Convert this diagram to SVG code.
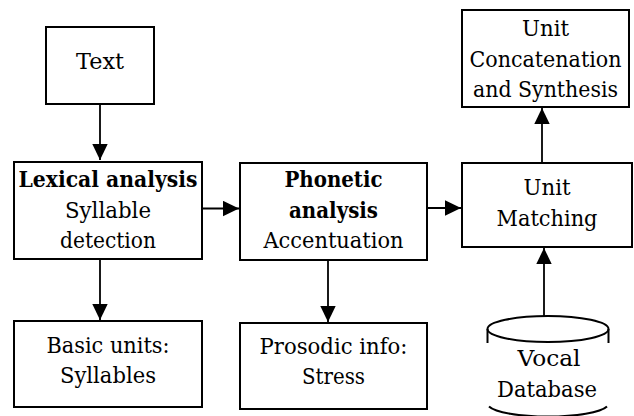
<svg xmlns="http://www.w3.org/2000/svg" width="634" height="416" viewBox="0 0 634 416">
  <style>
    .box { fill: #fff; stroke: #000; stroke-width: 2; }
    .cyl { fill: none; stroke: #000; stroke-width: 2; }
    .t { font-family: "DejaVu Serif", serif; font-size: 23px; fill: #000; text-anchor: middle; }
    .s { font-size: 22px; }
    .b { font-weight: bold; }
    .edge { stroke: #000; stroke-width: 1.8; fill: none; marker-end: url(#arrow); }
  </style>
  <defs>
    <marker id="arrow" viewBox="0 0 16 16" markerWidth="16" markerHeight="16" refX="16" refY="8" orient="auto" markerUnits="userSpaceOnUse">
      <path d="M0,0.3 L16,8 L0,15.7 Z" fill="#000"/>
    </marker>
  </defs>
  <rect width="634" height="416" fill="#fff"/>

  <g id="connectors">
    <line class="edge" x1="100" y1="104" x2="100" y2="160"/>
    <line class="edge" x1="202" y1="208.5" x2="239" y2="208.5"/>
    <line class="edge" x1="427" y1="208" x2="461" y2="208"/>
    <line class="edge" x1="542" y1="163" x2="542" y2="108"/>
    <line class="edge" x1="100" y1="259" x2="100" y2="320"/>
    <line class="edge" x1="328" y1="260" x2="328" y2="322"/>
    <line class="edge" x1="544" y1="316" x2="544" y2="248"/>
  </g>

  <g id="text-node">
    <rect class="box" x="46" y="27" width="108" height="77"/>
    <text class="t" x="100" y="69" textLength="48" lengthAdjust="spacingAndGlyphs">Text</text>
  </g>

  <g id="lexical-node">
    <rect class="box" x="14" y="162" width="188" height="97"/>
    <text class="t b" x="108" y="187" textLength="179" lengthAdjust="spacingAndGlyphs">Lexical analysis</text>
    <text class="t" x="108" y="217.5" textLength="86" lengthAdjust="spacingAndGlyphs">Syllable</text>
    <text class="t" x="108" y="248" textLength="96" lengthAdjust="spacingAndGlyphs">detection</text>
  </g>

  <g id="phonetic-node">
    <rect class="box" x="240" y="163" width="187" height="97"/>
    <text class="t b" x="333.5" y="187" textLength="98" lengthAdjust="spacingAndGlyphs">Phonetic</text>
    <text class="t b" x="333.5" y="217.5" textLength="89" lengthAdjust="spacingAndGlyphs">analysis</text>
    <text class="t" x="333.5" y="248" textLength="140" lengthAdjust="spacingAndGlyphs">Accentuation</text>
  </g>

  <g id="matching-node">
    <rect class="box" x="462" y="163" width="170" height="84"/>
    <text class="t" x="547" y="195" textLength="47" lengthAdjust="spacingAndGlyphs">Unit</text>
    <text class="t" x="547" y="226" textLength="101" lengthAdjust="spacingAndGlyphs">Matching</text>
  </g>

  <g id="concat-node">
    <rect class="box" x="462" y="10" width="167" height="97"/>
    <text class="t" x="545.5" y="36" textLength="47" lengthAdjust="spacingAndGlyphs">Unit</text>
    <text class="t s" x="545.5" y="66.5" textLength="152" lengthAdjust="spacingAndGlyphs">Concatenation</text>
    <text class="t s" x="545.5" y="97" textLength="145" lengthAdjust="spacingAndGlyphs">and Synthesis</text>
  </g>

  <g id="basic-node">
    <rect class="box" x="14" y="321" width="188" height="86"/>
    <text class="t" x="108" y="352.5" textLength="123" lengthAdjust="spacingAndGlyphs">Basic units:</text>
    <text class="t" x="108" y="382.5" textLength="96" lengthAdjust="spacingAndGlyphs">Syllables</text>
  </g>

  <g id="prosodic-node">
    <rect class="box" x="240" y="323" width="187" height="86"/>
    <text class="t" x="333.5" y="353.5" textLength="148" lengthAdjust="spacingAndGlyphs">Prosodic info:</text>
    <text class="t" x="333.5" y="383.5" textLength="63" lengthAdjust="spacingAndGlyphs">Stress</text>
  </g>

  <g id="database-node">
    <ellipse class="cyl" cx="548" cy="329" rx="60.5" ry="13"/>
    <line class="cyl" x1="487.5" y1="329" x2="487.5" y2="343"/>
    <line class="cyl" x1="608.5" y1="329" x2="608.5" y2="343"/>
    <path class="cyl" d="M489,406.5 A60.5,13 0 0 0 607,406.5"/>
    <text class="t" x="549" y="366" textLength="63" lengthAdjust="spacingAndGlyphs">Vocal</text>
    <text class="t" x="547" y="397" textLength="100" lengthAdjust="spacingAndGlyphs">Database</text>
  </g>
</svg>
